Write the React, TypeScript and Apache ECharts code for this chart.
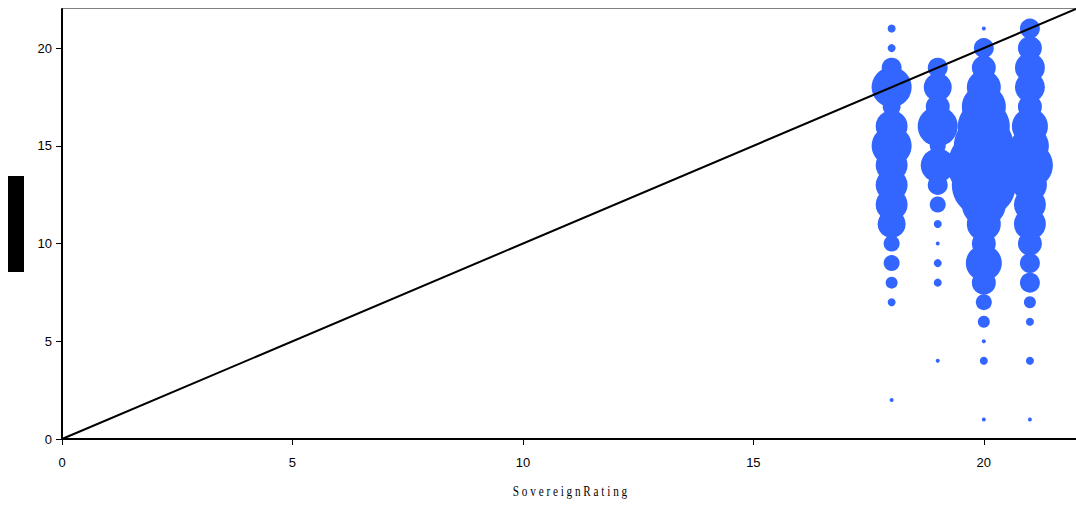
import React, { useEffect, useRef } from "react";
import * as echarts from "echarts";

const tickValues = [0, 5, 10, 15, 20];
const xTitle = "S o v e r e i g n R a t i n g";
const ratingColumns = [18, 19, 20, 21];
// [y value, count] per column
const col18: [number, number][] = [
  [21, 4], [20, 4], [19, 25], [18, 100], [17, 20], [16, 64], [15, 100], [14, 64],
  [13, 64], [12, 64], [11, 49], [10, 16], [9, 16], [8, 9], [7, 4], [2, 1],
];
const col19: [number, number][] = [
  [19, 25], [18, 49], [17, 36], [16, 100], [15, 16], [14, 72], [13, 25], [12, 16],
  [11, 4], [10, 1], [9, 4], [8, 4], [4, 1],
];
const col20: [number, number][] = [
  [21, 1], [20, 25], [19, 36], [18, 72], [17, 121], [16, 169], [15, 225], [14, 324],
  [13, 256], [12, 121], [11, 72], [10, 36], [9, 81], [8, 36], [7, 16], [6, 9],
  [5, 1], [4, 4], [1, 1],
];
const col21: [number, number][] = [
  [21, 25], [20, 36], [19, 56], [18, 56], [17, 36], [16, 81], [15, 90], [14, 132],
  [13, 72], [12, 64], [11, 64], [10, 36], [9, 25], [8, 25], [7, 9], [6, 4],
  [4, 4], [1, 1],
];
const diagonal = [[0, 0], [22, 22]];

export default function App() {
  const ref = useRef<HTMLDivElement>(null);
  useEffect(() => {
    if (!ref.current) return;
    const chart = echarts.init(ref.current, null, { renderer: "svg" });
    const cols = [col18, col19, col20, col21];
    const bubbles: number[][] = [];
    cols.forEach((c, i) => c.forEach(([y, n]) => bubbles.push([ratingColumns[i], y, n])));
    const axisCommon = {
      type: "value" as const,
      min: 0,
      max: 22,
      interval: 5,
      splitLine: { show: false },
      axisLine: { show: true, lineStyle: { color: "#000", width: 2 } },
      axisTick: { show: true, inside: false, length: 6, customValues: tickValues, lineStyle: { color: "#000", width: 1 } },
      axisLabel: { customValues: tickValues, color: "#000", fontSize: 13, fontFamily: "Liberation Sans, Arial, sans-serif" },
    };
    chart.setOption({
      animation: false,
      grid: { left: 62, right: -2, top: 9, bottom: 69 },
      xAxis: {
        ...axisCommon,
        axisLabel: { ...axisCommon.axisLabel, margin: 17 },
      },
      yAxis: {
        ...axisCommon,
        axisLabel: { ...axisCommon.axisLabel, margin: 10 },
      },
      graphic: [
        { type: "rect", left: 8, top: 176, shape: { width: 16, height: 96 }, style: { fill: "#000" } },
        { type: "line", shape: { x1: 62, y1: 8.5, x2: 1076, y2: 8.5 }, style: { stroke: "#808080", lineWidth: 1 } },
        {
          type: "text",
          x: 570,
          y: 492,
          scaleX: 0.8,
          style: {
            text: xTitle,
            fill: "#000",
            fontSize: 14,
            fontFamily: "Liberation Serif, Times New Roman, serif",
            textAlign: "center",
            textVerticalAlign: "middle",
          },
        },
      ],
      series: [
        {
          type: "scatter",
          data: bubbles,
          symbolSize: (d: number[]) => 4 * Math.sqrt(d[2]),
          itemStyle: { color: "#3366FF", opacity: 1 },
          z: 2,
        },
        {
          type: "line",
          data: diagonal,
          symbol: "none",
          lineStyle: { color: "#000", width: 2 },
          z: 3,
        },
      ],
    });
    return () => chart.dispose();
  }, []);
  return <div ref={ref} style={{ position: "absolute", left: 0, top: 0, width: 1076, height: 508 }} />;
}
